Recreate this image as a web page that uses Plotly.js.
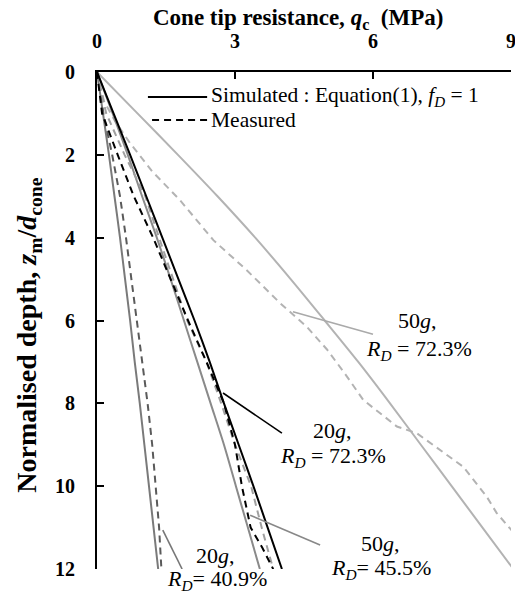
<!DOCTYPE html>
<html>
<head>
<meta charset="utf-8">
<script src="https://cdn.plot.ly/plotly-3.0.1.min.js"></script>
<style>html,body{margin:0;padding:0;background:#fff;}#chart{width:515px;height:598px;}</style>
</head>
<body>
<div id="chart"></div>
<script>
// Depth (normalised, z_m/d_cone)
const depth = [0,1,2,3,4,5,6,7,8,9,10,11,12];

// 20g, RD = 72.3%
const sim20_723  = [0,0.36,0.72,1.07,1.42,1.77,2.12,2.45,2.76,3.08,3.40,3.71,4.02];
const meas20_723_depth = [0,1,2,3,4,5,6,7,8,9,10,11,11.5,12];
const meas20_723 = [0,0.11,0.45,0.80,1.22,1.60,1.98,2.38,2.76,3.00,3.15,3.34,3.60,3.83];

// 50g, RD = 45.5%
const sim50_455  = [0,0.34,0.67,0.98,1.30,1.60,1.89,2.18,2.47,2.76,3.02,3.28,3.54];
const meas50_455 = [0,0.20,0.60,1.05,1.35,1.65,1.96,2.38,2.70,3.00,3.35,3.58,3.83];

// 20g, RD = 40.9%
const sim20_409  = [0,0.13,0.26,0.38,0.50,0.61,0.72,0.82,0.93,1.03,1.13,1.23,1.33];
const meas20_409 = [0,0.14,0.33,0.50,0.63,0.75,0.87,0.98,1.10,1.20,1.28,1.35,1.40];

// 50g, RD = 72.3%
const sim50_723  = [0,0.88,1.76,2.62,3.44,4.21,4.95,5.68,6.37,7.04,7.71,8.38,9.05];
const meas50_723_depth = [0,0.7,1.2,1.72,2.4,3.09,4.06,4.78,5.58,6.15,6.7,7.3,7.92,8.56,8.72,9.13,9.53,10.25,10.65,11.06,11.5];
const meas50_723 = [0,0.15,0.40,0.72,1.20,1.80,2.53,3.25,3.98,4.56,5.00,5.40,5.79,6.52,6.95,7.46,7.96,8.47,8.69,9.01,9.30];

const xTicks = [0,3,6,9];
const yTicks = [0,2,4,6,8,10,12];

const FONT = 'Times New Roman, Liberation Serif, Tinos, DejaVu Serif, serif';
const DASH = '7px,5px';
const LW = 2;

function tr(x, y, color, dash, name, smooth){
  return {x:x, y:y, type:'scatter', mode:'lines', name:name, showlegend:false,
          line:{color:color, width:LW, dash:dash, shape: smooth ? 'spline' : 'linear', smoothing:0.8},
          hoverinfo:'skip'};
}

const data = [
  tr(sim50_723, depth, '#b3b3b3', 'solid', '50g 72.3% sim', true),
  tr(meas50_723, meas50_723_depth, '#b3b3b3', DASH, '50g 72.3% meas', false),
  tr(sim20_409, depth, '#7a7a7a', 'solid', '20g 40.9% sim', true),
  tr(meas20_409, depth, '#5a5a5a', DASH, '20g 40.9% meas', false),
  tr(sim50_455, depth, '#8a8a8a', 'solid', '50g 45.5% sim', true),
  tr(meas50_455, depth, '#a0a0a0', DASH, '50g 45.5% meas', false),
  tr(sim20_723, depth, '#000000', 'solid', '20g 72.3% sim', true),
  tr(meas20_723, meas20_723_depth, '#000000', DASH, '20g 72.3% meas', false)
];

function txt(x, y, text){
  return {x:x, y:y, xref:'paper', yref:'paper', text:text, showarrow:false,
          xanchor:'center', yanchor:'middle', font:{family:FONT, size:22, color:'#000'}};
}
function leader(x0,y0,x1,y1,color){
  return {type:'line', xref:'x', yref:'y', x0:x0, y0:y0, x1:x1, y1:y1,
          line:{color:color, width:1.6}};
}

const layout = {
  width:515, height:598,
  margin:{l:97, r:4, t:72, b:29, pad:0},
  paper_bgcolor:'#fff', plot_bgcolor:'#fff',
  showlegend:false,
  font:{family:FONT, color:'#000'},
  xaxis:{
    side:'top', range:[0,9], tickvals:xTicks, ticktext:xTicks.map(String),
    showgrid:false, zeroline:false, showline:true, linecolor:'#000', linewidth:2,
    ticks:'inside', ticklen:7, tickwidth:2, tickcolor:'#000',
    tickfont:{family:FONT, size:20, color:'#000', weight:'bold'},
    ticklabelstandoff:14, ticklabeloverflow:'allow'
  },
  yaxis:{
    range:[12,0], tickvals:yTicks, ticktext:yTicks.map(String),
    showgrid:false, zeroline:false, showline:true, linecolor:'#000', linewidth:2,
    ticks:'inside', ticklen:7, tickwidth:2, tickcolor:'#000',
    tickfont:{family:FONT, size:20, color:'#000', weight:'bold'},
    ticklabelstandoff:16, ticklabeloverflow:'allow'
  },
  shapes:[
    // legend samples
    {type:'line', xref:'paper', yref:'paper', x0:0.123, x1:0.266, y0:0.9497, y1:0.9497, line:{color:'#000', width:2}},
    {type:'line', xref:'paper', yref:'paper', x0:0.133, x1:0.266, y0:0.9034, y1:0.9034, line:{color:'#000', width:2, dash:DASH}},
    // leader lines
    leader(4.26,5.79,6.0,6.33,'#aaaaaa'),
    leader(2.74,7.75,4.02,8.72,'#000000'),
    leader(3.33,10.7,4.85,11.42,'#888888'),
    leader(1.43,11.06,1.85,12.0,'#777777')
  ],
  annotations:[
    // axis titles
    {xref:'paper', yref:'paper', x:0.486, y:1.1066, xanchor:'center', yanchor:'middle', showarrow:false,
     text:'<b>Cone tip resistance, <i>q</i><sub>c</sub>  (MPa)</b>', font:{family:FONT, size:23, color:'#000'}},
    {xref:'paper', yref:'paper', x:-0.166, y:0.47, xanchor:'center', yanchor:'middle', showarrow:false, textangle:-90,
     text:'<b>Normalised depth, <i>z</i><sub>m</sub>/<i>d</i><sub>cone</sub></b>', font:{family:FONT, size:28, color:'#000'}},
    // legend
    {xref:'paper', yref:'paper', x:0.2705, y:0.9497, xanchor:'left', yanchor:'middle', showarrow:false,
     text:'Simulated : Equation(1), <i>f</i><sub><i>D</i></sub> = 1', font:{family:FONT, size:21.5, color:'#000'}},
    {xref:'paper', yref:'paper', x:0.2705, y:0.9034, xanchor:'left', yanchor:'middle', showarrow:false,
     text:'Measured', font:{family:FONT, size:21.5, color:'#000'}},
    // curve labels
    txt(0.773,0.501,'50<i>g</i>,'),
    txt(0.778,0.441,'<i>R</i><sub><i>D</i></sub> = 72.3%'),
    txt(0.570,0.278,'20<i>g</i>,'),
    txt(0.569,0.225,'<i>R</i><sub><i>D</i></sub> = 72.3%'),
    txt(0.684,0.052,'50<i>g</i>,'),
    txt(0.687,0.000,'<i>R</i><sub><i>D</i></sub>= 45.5%'),
    txt(0.287,0.028,'20<i>g</i>,'),
    txt(0.290,-0.022,'<i>R</i><sub><i>D</i></sub>= 40.9%')
  ]
};

Plotly.newPlot('chart', data, layout, {displayModeBar:false, staticPlot:true});
</script>
</body>
</html>
